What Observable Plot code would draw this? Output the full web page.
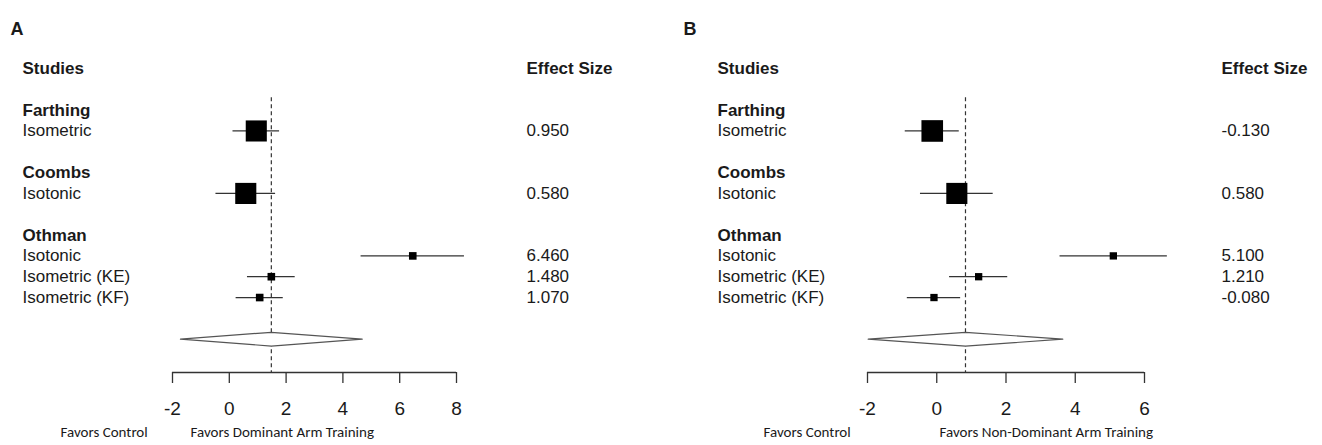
<!DOCTYPE html>
<html><head><meta charset="utf-8">
<script src="https://cdn.jsdelivr.net/npm/d3@7"></script>
<script src="https://cdn.jsdelivr.net/npm/@observablehq/plot@0.6"></script>
<style>
body{margin:0;background:#fff;}
#wrap{display:flex;width:1322px;height:445px;}
#wrap>div{width:661px;height:445px;}
svg{overflow:visible}
</style></head><body><div id="wrap"><div id="a"></div><div id="b"></div></div>
<script>
// ---- data ----
const studies   = ["Farthing", "Coombs", "Othman", "Othman", "Othman"];
const subgroups = ["Isometric", "Isotonic", "Isotonic", "Isometric (KE)", "Isometric (KF)"];

// Panel A: dominant arm training
const effectA = [0.95, 0.58, 6.46, 1.48, 1.07];
const lowerA  = [0.13, -0.47, 4.64, 0.64, 0.24];
const upperA  = [1.77, 1.63, 8.28, 2.32, 1.90];
const weightA = [1.0, 1.0, 0.13, 0.13, 0.13];
const summaryA = {est: 1.48, lo: -1.72, hi: 4.68};
const ticksA = [-2, 0, 2, 4, 6, 8];

// Panel B: non-dominant arm training
const effectB = [-0.13, 0.58, 5.10, 1.21, -0.08];
const lowerB  = [-0.91, -0.47, 3.56, 0.37, -0.85];
const upperB  = [0.65, 1.63, 6.66, 2.05, 0.69];
const weightB = [1.05, 1.0, 0.12, 0.12, 0.12];
const summaryB = {est: 0.83, lo: -1.98, hi: 3.64};
const ticksB = [-2, 0, 2, 4, 6];

// ---- build ----
function rowsFor(effects, lower, upper, weights) {
  const rows = [], titles = [];
  let r = 0, prev = null;
  studies.forEach((s, i) => {
    if (s !== prev) { r += 2; titles.push({label: s, row: r}); prev = s; }
    r += 1;
    rows.push({label: subgroups[i], est: effects[i], lo: lower[i], hi: upper[i], w: weights[i], row: r});
  });
  return {rows, titles, summaryRow: r + 2};
}

function panel(cfg) {
  const {rows, titles, summaryRow} = rowsFor(cfg.effect, cfg.lower, cfg.upper, cfg.weight);
  const axisRow = summaryRow + 1.6;
  const s = cfg.summary, h = 0.33;
  const diamond = [[s.lo, summaryRow], [s.est, summaryRow - h], [s.hi, summaryRow], [s.est, summaryRow + h], [s.lo, summaryRow]];
  const ink = "#1a1a1a";
  return Plot.plot({
    width: 661, height: 445,
    marginLeft: cfg.ml, marginRight: cfg.mr, marginTop: 68, marginBottom: 73,
    x: {domain: [d3.min(cfg.ticks), d3.max(cfg.ticks)]},
    y: {domain: [0, axisRow], reverse: true, axis: null},
    r: {type: "sqrt", domain: [0, 1], range: [0, 11.9]},
    style: {fontFamily: "'Liberation Sans', Arial, sans-serif", fontSize: "17px", color: ink, background: "white"},
    marks: [
      Plot.ruleX([s.est], {y1: 1.4, y2: axisRow, stroke: "#333", strokeDasharray: "4,3", strokeWidth: 1.2}),
      Plot.ruleY(rows, {y: "row", x1: "lo", x2: "hi", stroke: "#333", strokeWidth: 1.3}),
      Plot.dot(rows, {x: "est", y: "row", r: "w", symbol: "square", fill: "black", stroke: null}),
      Plot.line(diamond, {x: d => d[0], y: d => d[1], stroke: "#555", strokeWidth: 1.2, fill: "white"}),
      Plot.ruleY([axisRow], {x1: d3.min(cfg.ticks), x2: d3.max(cfg.ticks), stroke: "#333", strokeWidth: 1.3}),
      Plot.axisX(cfg.ticks, {anchor: "bottom", tickSize: 11, tickPadding: 18, tickFormat: d => String(d), fontSize: 19, stroke: "#333", strokeWidth: 1.3}),
      // text columns
      Plot.text([{label: "Studies", row: 0}], {y: "row", text: "label", frameAnchor: "left", dx: -150, textAnchor: "start", fontWeight: "bold"}),
      Plot.text([{label: "Effect Size", row: 0}], {y: "row", text: "label", frameAnchor: "right", dx: cfg.colDx, textAnchor: "start", fontWeight: "bold"}),
      Plot.text(titles, {y: "row", text: "label", frameAnchor: "left", dx: -150, textAnchor: "start", fontWeight: "bold"}),
      Plot.text(rows, {y: "row", text: "label", frameAnchor: "left", dx: -150, textAnchor: "start"}),
      Plot.text(rows, {y: "row", text: d => d.est.toFixed(3), frameAnchor: "right", dx: cfg.colDx, textAnchor: "start"}),
      // panel letter and favors labels
      Plot.text([cfg.letter], {text: d => d, frameAnchor: "top-left", dx: cfg.letterDx, dy: -46, textAnchor: "start", fontWeight: "bold", fontSize: 18}),
      Plot.text(["Favors Control"], {text: d => d, frameAnchor: "bottom-left", dx: cfg.fav1Dx, dy: 64, textAnchor: "start", fontFamily: "Carlito, Lato, sans-serif", fontSize: 15}),
      Plot.text([cfg.favors], {text: d => d, frameAnchor: "bottom-left", dx: cfg.fav2Dx, dy: 64, textAnchor: "start", fontFamily: "Carlito, Lato, sans-serif", fontSize: 15})
    ]
  });
}

document.getElementById("a").append(panel({
  effect: effectA, lower: lowerA, upper: upperA, weight: weightA, summary: summaryA, ticks: ticksA,
  ml: 172, mr: 205, colDx: 70, letter: "A", letterDx: -162, fav1Dx: -112, fav2Dx: 18,
  favors: "Favors Dominant Arm Training"
}));
document.getElementById("b").append(panel({
  effect: effectB, lower: lowerB, upper: upperB, weight: weightB, summary: summaryB, ticks: ticksB,
  ml: 206, mr: 178, colDx: 77, letter: "B", letterDx: -184, fav1Dx: -104, fav2Dx: 72,
  favors: "Favors Non-Dominant Arm Training"
}));
</script>
</body></html>
